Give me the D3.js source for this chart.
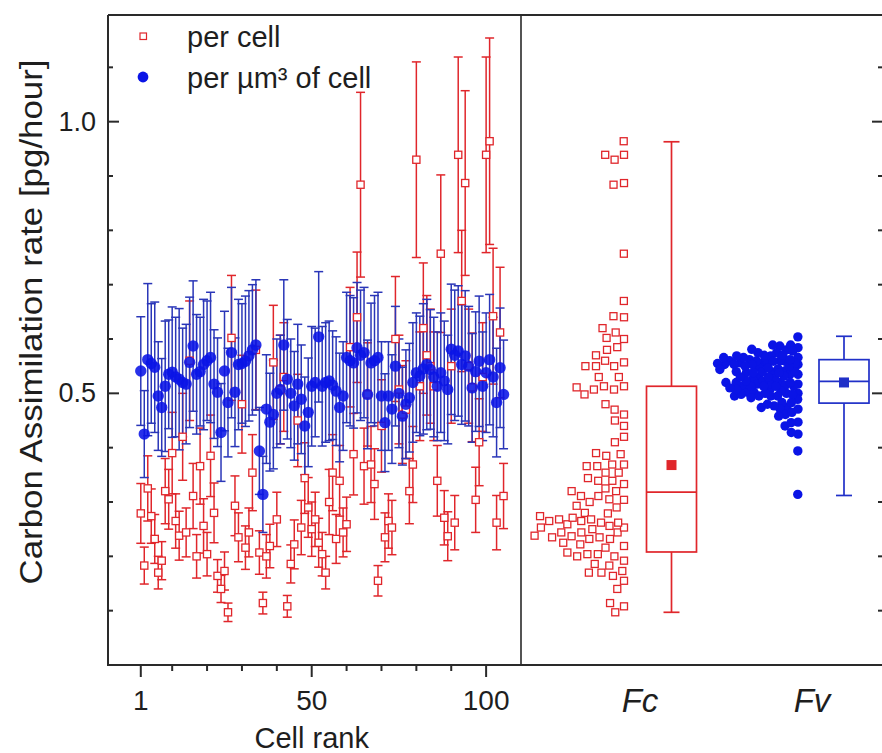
<!DOCTYPE html>
<meta charset='utf-8'>
<style>
    body { margin: 0; background: #fff; }
    text { font-family: 'Liberation Sans', Arial, sans-serif; fill: #1e1e1e; }
</style>
<body>
<script src='https://d3js.org/d3.v7.min.js'></script>
<script>
    var width = 882,
        height = 753;

    // carbon assimilation per cell [pg/hour], cell rank 1..105
    var perCell = [
        0.279, 0.183, 0.325, 0.274, 0.232, 0.170, 0.192, 0.320, 0.305, 0.390,
        0.265, 0.238, 0.420, 0.244, 0.560, 0.311, 0.200, 0.366, 0.256, 0.204,
        0.385, 0.280, 0.164, 0.140, 0.173, 0.097, 0.602, 0.293, 0.235, 0.480,
        0.216, 0.244, 0.354, 0.580, 0.207, 0.114, 0.200, 0.219, 0.557, 0.268,
        0.507, 0.530, 0.108, 0.186, 0.222, 0.450, 0.253, 0.344, 0.290, 0.250,
        0.268, 0.225, 0.204, 0.170, 0.300, 0.354, 0.232, 0.339, 0.244, 0.259,
        0.585, 0.388, 0.640, 0.884, 0.366, 0.498, 0.369, 0.333, 0.155, 0.440,
        0.235, 0.265, 0.253, 0.600, 0.507, 0.461, 0.470, 0.320, 0.369, 0.930,
        0.513, 0.620, 0.570, 0.550, 0.513, 0.339, 0.757, 0.271, 0.237, 0.550,
        0.262, 0.939, 0.670, 0.887, 0.550, 0.511, 0.304, 0.410, 0.530, 0.939,
        0.964, 0.642, 0.262, 0.612, 0.311
    ];
    var perCellErr = [
        0.055, 0.034, 0.060, 0.050, 0.045, 0.030, 0.035, 0.060, 0.055, 0.075,
        0.050, 0.045, 0.080, 0.045, 0.110, 0.060, 0.040, 0.070, 0.050, 0.040,
        0.075, 0.055, 0.030, 0.025, 0.035, 0.017, 0.115, 0.055, 0.045, 0.090,
        0.040, 0.045, 0.070, 0.110, 0.040, 0.020, 0.040, 0.040, 0.105, 0.050,
        0.100, 0.100, 0.020, 0.035, 0.045, 0.085, 0.050, 0.065, 0.055, 0.050,
        0.050, 0.045, 0.040, 0.030, 0.060, 0.070, 0.045, 0.065, 0.045, 0.050,
        0.110, 0.075, 0.120, 0.170, 0.070, 0.095, 0.070, 0.065, 0.028, 0.085,
        0.045, 0.050, 0.050, 0.115, 0.100, 0.090, 0.090, 0.060, 0.070, 0.180,
        0.100, 0.120, 0.110, 0.105, 0.100, 0.065, 0.145, 0.050, 0.045, 0.105,
        0.050, 0.180, 0.130, 0.170, 0.105, 0.100, 0.060, 0.080, 0.100, 0.180,
        0.190, 0.125, 0.050, 0.120, 0.060
    ];
    // carbon assimilation per µm³ of cell
    var perVol = [
        0.541, 0.425, 0.562, 0.555, 0.548, 0.495, 0.474, 0.513, 0.535, 0.539,
        0.530, 0.526, 0.520, 0.517, 0.557, 0.587, 0.535, 0.540, 0.553, 0.560,
        0.566, 0.517, 0.502, 0.428, 0.541, 0.483, 0.575, 0.502, 0.553, 0.555,
        0.559, 0.569, 0.580, 0.589, 0.394, 0.314, 0.471, 0.447, 0.461, 0.500,
        0.507, 0.589, 0.526, 0.500, 0.477, 0.517, 0.489, 0.440, 0.465, 0.513,
        0.520, 0.604, 0.513, 0.520, 0.523, 0.515, 0.504, 0.474, 0.495, 0.566,
        0.560, 0.556, 0.584, 0.570, 0.575, 0.498, 0.556, 0.560, 0.566, 0.495,
        0.446, 0.495, 0.471, 0.550, 0.500, 0.458, 0.480, 0.492, 0.520, 0.538,
        0.532, 0.545, 0.553, 0.544, 0.530, 0.513, 0.538, 0.523, 0.507, 0.581,
        0.570, 0.578, 0.553, 0.569, 0.550, 0.510, 0.540, 0.559, 0.513, 0.538,
        0.562, 0.530, 0.483, 0.547, 0.498
    ];
    var perVolErr = [
        0.10, 0.08, 0.14, 0.11, 0.12, 0.10, 0.09, 0.12, 0.10, 0.12,
        0.11, 0.13, 0.10, 0.11, 0.12, 0.12, 0.11, 0.10, 0.12, 0.11,
        0.12, 0.10, 0.10, 0.09, 0.11, 0.10, 0.12, 0.10, 0.12, 0.11,
        0.12, 0.12, 0.12, 0.12, 0.08, 0.07, 0.10, 0.09, 0.10, 0.10,
        0.10, 0.12, 0.11, 0.10, 0.10, 0.11, 0.10, 0.09, 0.10, 0.11,
        0.10, 0.12, 0.11, 0.11, 0.11, 0.10, 0.10, 0.10, 0.10, 0.12,
        0.12, 0.12, 0.12, 0.12, 0.12, 0.10, 0.11, 0.12, 0.12, 0.10,
        0.09, 0.10, 0.10, 0.11, 0.10, 0.09, 0.10, 0.10, 0.11, 0.11,
        0.11, 0.12, 0.12, 0.11, 0.11, 0.10, 0.11, 0.11, 0.10, 0.12,
        0.12, 0.12, 0.11, 0.12, 0.11, 0.10, 0.11, 0.12, 0.10, 0.11,
        0.12, 0.11, 0.10, 0.11, 0.10
    ];

    var yMinor = [0.1, 0.2, 0.3, 0.4, 0.6, 0.7, 0.8, 0.9, 1.1];
    var yMajor = [0.5, 1.0];
    var xMinor = [10, 20, 30, 40, 60, 70, 80, 90];
    var xMajor = [1, 50, 100];
    var categories = ['Fc', 'Fv'];
    // box stats: min, q1, median, q3, max, mean
    var boxFc = [0.097, 0.208, 0.318, 0.513, 0.963, 0.368];
    var boxFv = [0.312, 0.482, 0.522, 0.562, 0.605, 0.520];

    var red = '#e0262b', blue = '#0a14e6', blueBar = '#2a36b8', axisCol = '#2a2a2a';

    var svg = d3.select('body').append('svg')
        .attr('width', width)
        .attr('height', height);

    var plotLeft = 108, plotMid = 521, plotRight = 884, plotTop = 15, plotBottom = 665;

    var x = d3.scaleLinear().domain([-8.4, 110]).range([plotLeft, plotMid]);
    var y = d3.scaleLinear().domain([0, 1.2]).range([665, 13]);
    var xc = d3.scalePoint().domain(categories).range([640, 812]);

    var cells = perCell.map(function(d, i) {
        return { rank: i + 1, c: d, ce: perCellErr[i], v: perVol[i], ve: perVolErr[i] };
    });

    function errorBars(g, key, errKey, color) {
        var bar = g.selectAll('g').data(cells).enter().append('g')
            .attr('stroke', color).attr('stroke-width', 1.5).attr('fill', 'none');
        bar.append('line')
            .attr('x1', function(d) { return x(d.rank); })
            .attr('x2', function(d) { return x(d.rank); })
            .attr('y1', function(d) { return y(d[key] - d[errKey]); })
            .attr('y2', function(d) { return y(d[key] + d[errKey]); });
        [-1, 1].forEach(function(s) {
            bar.append('line')
                .attr('x1', function(d) { return x(d.rank) - 4.5; })
                .attr('x2', function(d) { return x(d.rank) + 4.5; })
                .attr('y1', function(d) { return y(d[key] + s * d[errKey]); })
                .attr('y2', function(d) { return y(d[key] + s * d[errKey]); });
        });
    }

    errorBars(svg.append('g'), 'c', 'ce', red);
    errorBars(svg.append('g'), 'v', 've', blueBar);

    svg.append('g').selectAll('rect').data(cells).enter().append('rect')
        .attr('x', function(d) { return x(d.rank) - 3.6; })
        .attr('y', function(d) { return y(d.c) - 3.6; })
        .attr('width', 7.2).attr('height', 7.2)
        .attr('fill', '#fff').attr('stroke', red).attr('stroke-width', 1.3);

    svg.append('g').selectAll('circle').data(cells).enter().append('circle')
        .attr('cx', function(d) { return x(d.rank); })
        .attr('cy', function(d) { return y(d.v); })
        .attr('r', 5.7)
        .attr('fill', blue).attr('fill-opacity', 0.88);

    // right panel: values spread leftwards from a right edge without overlap
    function swarm(vals, edge, r) {
        var nodes = vals.map(function(v, i) {
            return { v: v, x: edge - (i % 6) * r, fy: y(v) };
        });
        var sim = d3.forceSimulation(nodes)
            .force('x', d3.forceX(edge).strength(0.06))
            .force('c', d3.forceCollide(r))
            .stop();
        for (var t = 0; t < 300; t++) {
            sim.tick();
            nodes.forEach(function(n) { if (n.x > edge) n.x = edge; });
        }
        return nodes;
    }

    var fcDots = swarm(perCell, xc('Fc') - 16, 5.3);
    var fvDots = swarm(perVol, xc('Fv') - 14, 3.45);

    svg.append('g').selectAll('rect').data(fcDots).enter().append('rect')
        .attr('x', function(d) { return d.x - 3.5; })
        .attr('y', function(d) { return y(d.v) - 3.5; })
        .attr('width', 7).attr('height', 7)
        .attr('fill', '#fff').attr('stroke', red).attr('stroke-width', 1.3);

    svg.append('g').selectAll('circle').data(fvDots).enter().append('circle')
        .attr('cx', function(d) { return d.x; })
        .attr('cy', function(d) { return y(d.v); })
        .attr('r', 4.7)
        .attr('fill', blue);

    function boxPlot(stats, cx, color) {
        var g = svg.append('g').attr('stroke', color).attr('stroke-width', 1.7).attr('fill', 'none');
        var hw = 25, cap = 8;
        g.append('line').attr('x1', cx).attr('x2', cx).attr('y1', y(stats[4])).attr('y2', y(stats[3]));
        g.append('line').attr('x1', cx).attr('x2', cx).attr('y1', y(stats[1])).attr('y2', y(stats[0]));
        [stats[0], stats[4]].forEach(function(v) {
            g.append('line').attr('x1', cx - cap).attr('x2', cx + cap).attr('y1', y(v)).attr('y2', y(v));
        });
        g.append('rect').attr('x', cx - hw).attr('width', 2 * hw)
            .attr('y', y(stats[3])).attr('height', y(stats[1]) - y(stats[3]));
        g.append('line').attr('x1', cx - hw).attr('x2', cx + hw).attr('y1', y(stats[2])).attr('y2', y(stats[2]));
        svg.append('rect').attr('x', cx - 5).attr('y', y(stats[5]) - 5)
            .attr('width', 10).attr('height', 10).attr('fill', color);
    }

    boxPlot(boxFc, xc('Fc') + 31.5, red);
    boxPlot(boxFv, xc('Fv') + 32, '#2030c8');

    // frame and ticks
    var frame = svg.append('g').attr('stroke', axisCol).attr('stroke-width', 2).attr('fill', 'none');
    frame.append('path').attr('d', 'M' + plotLeft + ',' + plotTop + 'V' + plotBottom + 'H' + plotRight +
        'M' + plotLeft + ',' + plotTop + 'H' + plotRight);
    frame.append('line').attr('x1', plotMid).attr('x2', plotMid)
        .attr('y1', plotTop).attr('y2', plotBottom).attr('stroke-width', 1.6);

    yMajor.concat(yMinor).forEach(function(v) {
        var len = yMajor.indexOf(v) >= 0 ? 11 : 5;
        frame.append('line').attr('x1', plotLeft).attr('x2', plotLeft + len).attr('y1', y(v)).attr('y2', y(v));
        frame.append('line').attr('x1', plotRight).attr('x2', plotRight - len - 1).attr('y1', y(v)).attr('y2', y(v));
    });
    xMajor.concat(xMinor).forEach(function(v) {
        var len = xMajor.indexOf(v) >= 0 ? 12 : 6;
        frame.append('line').attr('x1', x(v)).attr('x2', x(v)).attr('y1', plotBottom).attr('y2', plotBottom + len);
    });

    svg.append('g').selectAll('text').data(yMajor).enter().append('text')
        .attr('x', 96).attr('y', function(d) { return y(d) + 9; })
        .attr('text-anchor', 'end').style('font-size', '27px')
        .text(function(d) { return d.toFixed(1); });

    svg.append('g').selectAll('text').data(xMajor).enter().append('text')
        .attr('x', function(d) { return x(d); }).attr('y', 710)
        .attr('text-anchor', 'middle').style('font-size', '28px')
        .text(function(d) { return d; });

    svg.append('g').selectAll('text').data(categories).enter().append('text')
        .attr('x', function(d) { return xc(d); }).attr('y', 712)
        .attr('text-anchor', 'middle').style('font-size', '33px').style('font-style', 'italic')
        .text(function(d) { return d; });

    svg.append('text').attr('x', x(50)).attr('y', 748)
        .attr('text-anchor', 'middle').style('font-size', '29px').text('Cell rank');

    svg.append('text').attr('transform', 'translate(42,322) rotate(-90)')
        .attr('text-anchor', 'middle').style('font-size', '31px')
        .attr('textLength', 525).attr('lengthAdjust', 'spacingAndGlyphs')
        .text('Carbon Assimilation rate [pg/hour]');

    // legend
    var lg = svg.append('g');
    lg.append('rect').attr('x', 140).attr('y', 33).attr('width', 6.5).attr('height', 6.5)
        .attr('fill', '#fff').attr('stroke', red).attr('stroke-width', 1.2);
    lg.append('circle').attr('cx', 143).attr('cy', 77).attr('r', 5.4).attr('fill', blue);
    lg.append('text').attr('x', 187).attr('y', 47).style('font-size', '29px').text('per cell');
    lg.append('text').attr('x', 187).attr('y', 88).style('font-size', '29px').text('per µm³ of cell');
</script>
</body>
